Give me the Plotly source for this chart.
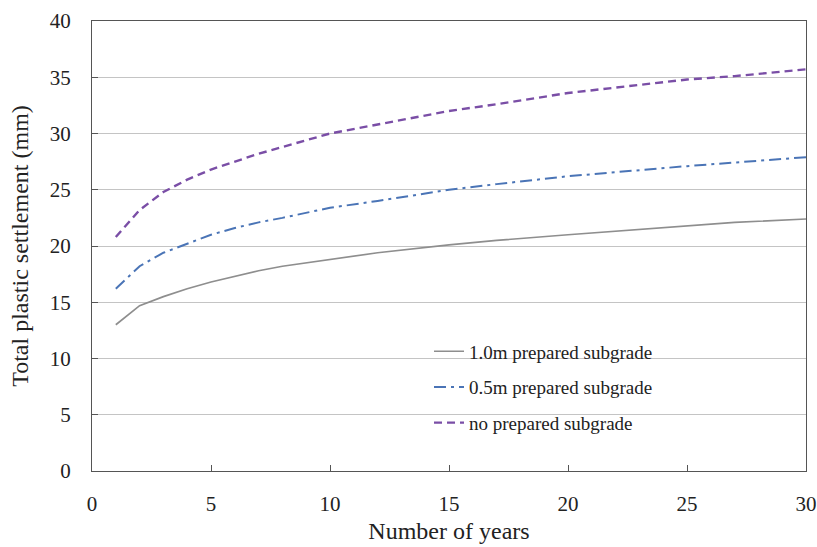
import plotly.graph_objects as go

# Settlement (mm) against service years for three subgrade treatments
years = [1, 2, 3, 4, 5, 6, 7, 8, 10, 12, 15, 17, 20, 25, 27, 30]
settle_1_0m = [13.0, 14.7, 15.5, 16.2, 16.8, 17.3, 17.8, 18.2, 18.8, 19.4, 20.1, 20.5, 21.0, 21.8, 22.1, 22.4]
settle_0_5m = [16.2, 18.2, 19.4, 20.2, 21.0, 21.6, 22.1, 22.5, 23.4, 24.0, 25.0, 25.5, 26.2, 27.1, 27.4, 27.9]
settle_none = [20.8, 23.2, 24.8, 25.9, 26.8, 27.5, 28.2, 28.8, 30.0, 30.8, 32.0, 32.6, 33.6, 34.8, 35.1, 35.7]

series_names = ["1.0m prepared subgrade", "0.5m prepared subgrade", "no prepared subgrade"]
x_ticks = [0, 5, 10, 15, 20, 25, 30]
y_ticks = [0, 5, 10, 15, 20, 25, 30, 35, 40]

SERIF = "Liberation Serif, Times New Roman, serif"

fig = go.Figure()
fig.add_trace(go.Scatter(x=years, y=settle_1_0m, mode="lines", name=series_names[0],
                         legendgroup="a",
                         line=dict(color="#8e8e8e", width=1.7, dash="solid")))
fig.add_trace(go.Scatter(x=years, y=settle_0_5m, mode="lines", name=series_names[1],
                         legendgroup="b",
                         line=dict(color="#4a74b6", width=2, dash="12px,5px,3px,5px")))
fig.add_trace(go.Scatter(x=years, y=settle_none, mode="lines", name=series_names[2],
                         legendgroup="c",
                         line=dict(color="#7a4ea6", width=2.4, dash="8px,5px")))

fig.update_layout(
    width=817, height=547,
    margin=dict(l=92, r=11, t=21, b=76),
    paper_bgcolor="white", plot_bgcolor="white",
    font=dict(family=SERIF, color="#222222"),
    showlegend=True,
    legend=dict(x=0.472, y=0.308, xanchor="left", yanchor="top",
                bgcolor="rgba(0,0,0,0)", font=dict(size=19, family=SERIF),
                tracegroupgap=8, itemwidth=30),
    xaxis=dict(range=[0, 30], tickvals=x_ticks, ticks="inside", ticklen=6,
               tickcolor="#555555", showgrid=False, zeroline=False,
               showline=True, linecolor="#555555", linewidth=1.3, mirror=True,
               ticklabelstandoff=14, automargin=False,
               tickfont=dict(size=21, family=SERIF, color="#222222"),
               title=dict(text="Number of years", font=dict(size=24, family=SERIF),
                          standoff=6)),
    yaxis=dict(range=[0, 40], tickvals=y_ticks, ticks="inside", ticklen=6,
               tickcolor="#555555", showgrid=True, gridcolor="#c4c4c4", gridwidth=1.3,
               zeroline=False, showline=True, linecolor="#555555", linewidth=1.3,
               mirror=True, ticklabelstandoff=16, automargin=False,
               tickfont=dict(size=21, family=SERIF, color="#222222"),
               title=dict(text="Total plastic settlement (mm)",
                          font=dict(size=24, family=SERIF), standoff=14)),
)

fig.write_html("out.html")
